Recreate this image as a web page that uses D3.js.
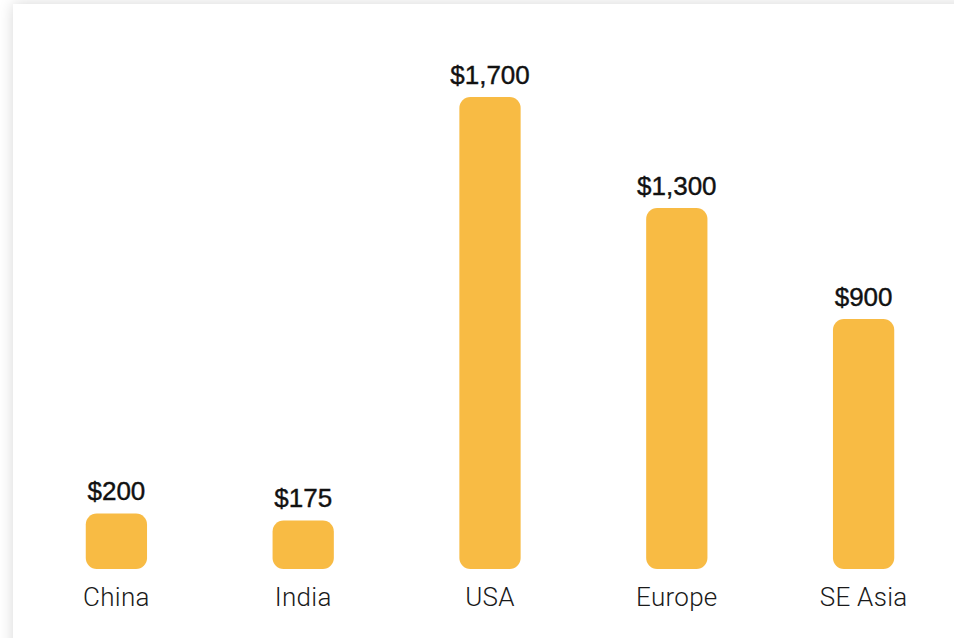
<!DOCTYPE html>
<html><head><meta charset="utf-8">
<script src="https://cdn.jsdelivr.net/npm/d3@7"></script>
<style>
html,body{margin:0;padding:0;background:#fff;overflow:hidden;}
#card{position:absolute;left:13px;top:4px;width:1000px;height:700px;background:#fff;box-shadow:0 0 14px rgba(0,0,0,0.16);}
svg{position:absolute;left:0;top:0;}
</style></head><body>
<div id="card"></div>
<svg id="chart" width="954" height="638"></svg>
<script>
const categories = ["China","India","USA","Europe","SE Asia"];
const values = [200,175,1700,1300,900];
const valueLabels = ["$200","$175","$1,700","$1,300","$900"];

const svg = d3.select("#chart");
const x = d3.scaleBand().domain(categories).range([23, 957]).paddingInner(0.672).paddingOuter(0.336);
const y = d3.scaleLinear().domain([0,1700]).range([569, 97]);

const g = svg.append("g");
g.selectAll("rect.bar").data(categories).join("rect")
  .attr("class","bar")
  .attr("x", d => x(d))
  .attr("width", x.bandwidth())
  .attr("y", (d,i) => y(values[i]))
  .attr("height", (d,i) => y(0) - y(values[i]))
  .attr("rx", 11).attr("ry", 11)
  .attr("fill", "#F8BB44");

g.selectAll("text.val").data(categories).join("text")
  .attr("class","val")
  .attr("x", d => x(d) + x.bandwidth()/2)
  .attr("y", (d,i) => y(values[i]) - 13)
  .attr("text-anchor","middle")
  .attr("font-family","'Liberation Sans', Arial, sans-serif")
  .attr("font-size", 26)
  .attr("fill","#111")
  .attr("stroke","#111")
  .attr("stroke-width",0.4)
  .text((d,i) => valueLabels[i]);

const xAxis = d3.axisBottom(x).tickSize(0).tickPadding(0);
const ax = svg.append("g").attr("transform","translate(0,587)").call(xAxis);
ax.select(".domain").remove();
ax.selectAll("text")
  .attr("font-family","Roboto, 'Liberation Sans', sans-serif")
  .attr("font-weight", 300)
  .attr("font-size", 26)
  .attr("letter-spacing", "0.3px")
  .attr("fill","#1a1a1a")
  .attr("dy","0.72em");
</script>
</body></html>
